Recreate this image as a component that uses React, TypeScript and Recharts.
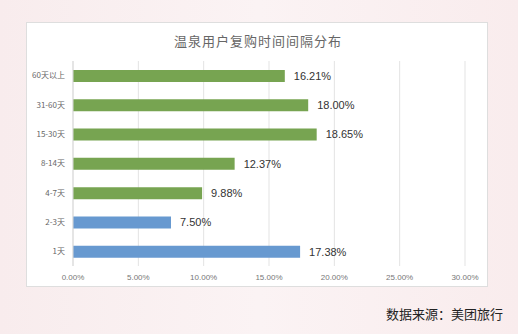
import React from "react";
import { BarChart, Bar, XAxis, YAxis, CartesianGrid, Cell, LabelList } from "recharts";

const categories = ["60天以上", "31-60天", "15-30天", "8-14天", "4-7天", "2-3天", "1天"];
const values = [16.21, 18.0, 18.65, 12.37, 9.88, 7.5, 17.38];
const groups = ["g", "g", "g", "g", "g", "b", "b"];
const xTicks = [0, 5, 10, 15, 20, 25, 30];

const GREEN = "#77a451";
const BLUE = "#6799d0";

const data = categories.map((c, i) => ({ name: c, value: values[i], group: groups[i] }));

export default function App() {
  return (
    <div
      style={{
        position: "absolute",
        left: 0,
        top: 0,
        width: 518,
        height: 334,
        background: "linear-gradient(90deg, #f8eced 0%, #fbf3f4 50%, #f9eced 100%)",
        fontFamily: "'Noto Sans CJK SC', sans-serif",
        overflow: "hidden",
      }}
    >
      <div
        style={{
          position: "absolute",
          left: 26,
          top: 22,
          width: 462,
          height: 265,
          background: "#ffffff",
          border: "1px solid #dedede",
          boxSizing: "border-box",
        }}
      >
        <div
          style={{
            position: "absolute",
            left: 0,
            top: 8,
            width: 462,
            textAlign: "center",
            fontSize: 13,
            color: "#666",
            letterSpacing: 1,
          }}
        >
          温泉用户复购时间间隔分布
        </div>
        <div style={{ position: "absolute", left: 0, top: 0 }}>
          <BarChart
            width={462}
            height={265}
            data={data}
            layout="vertical"
            margin={{ top: 38, right: 24, bottom: 2, left: 0 }}
          >
            <CartesianGrid horizontal={false} stroke="#e3e3e3" />
            <XAxis
              type="number"
              domain={[0, 30]}
              ticks={xTicks}
              tickFormatter={(v: number) => v.toFixed(2) + "%"}
              axisLine={false}
              tickLine={false}
              tick={{ fontSize: 8, fill: "#777", fontFamily: "'Liberation Sans', Arial, sans-serif" }}
              height={20}
              interval={0}
            />
            <YAxis
              type="category"
              dataKey="name"
              width={46}
              axisLine={{ stroke: "#d9d9d9" }}
              tickLine={false}
              tick={{ fontSize: 8, fill: "#666" }}
              interval={0}
            />
            <Bar dataKey="value" barSize={12} isAnimationActive={false}>
              {data.map((d, i) => (
                <Cell key={i} fill={d.group === "g" ? GREEN : BLUE} />
              ))}
              <LabelList
                dataKey="value"
                position="right"
                offset={9}
                formatter={(v: number) => v.toFixed(2) + "%"}
                style={{ fontSize: 11, fill: "#333", fontFamily: "'Liberation Sans', Arial, sans-serif" }}
              />
            </Bar>
          </BarChart>
        </div>
      </div>
      <div
        style={{
          position: "absolute",
          left: 386,
          top: 304,
          fontSize: 13,
          color: "#222",
        }}
      >
        数据来源：美团旅行
      </div>
    </div>
  );
}
